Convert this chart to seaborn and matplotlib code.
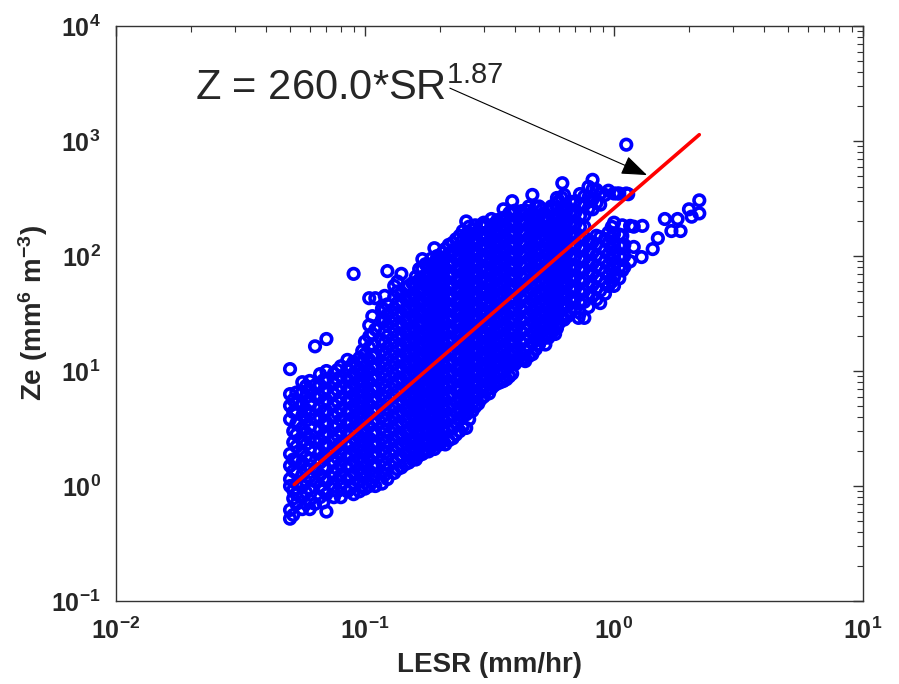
import numpy as np
import matplotlib
matplotlib.use('Agg')
import matplotlib.pyplot as plt
import seaborn as sns
from matplotlib.ticker import LogLocator, FuncFormatter, NullFormatter

# LESR values (mm/hr): one entry per vertical strip of points
col_lesr = [0.050, 0.053, 0.056, 0.060, 0.063, 0.066, 0.070, 0.075, 0.080, 0.085,
            0.090, 0.095, 0.100, 0.104, 0.110, 0.117, 0.123, 0.131, 0.140, 0.150,
            0.160, 0.170, 0.180, 0.190, 0.200, 0.210, 0.225, 0.240, 0.255, 0.270,
            0.285, 0.300, 0.315, 0.330, 0.350, 0.370, 0.390, 0.410, 0.440, 0.470,
            0.500, 0.530, 0.560, 0.580, 0.600, 0.620, 0.630, 0.650, 0.690, 0.700,
            0.720, 0.760, 0.800, 0.820, 0.880, 0.950, 1.000, 1.030, 1.080, 1.120,
            1.140, 1.160, 1.200, 1.290, 1.300, 1.430, 1.500, 1.600, 1.700, 1.800,
            1.850, 2.000, 2.050, 2.200]

# Ze values (mm^6 m^-3) of the points in each strip
col_ze = [
    [0.52, 0.62, 1.0, 1.15, 1.5, 1.9, 3.8, 5.0, 6.3, 10.4],
    [0.7, 0.85, 1.05, 1.3, 1.7, 2.2, 2.8, 3.5, 4.4, 5.2, 6.5],
    [0.63, 0.8, 1.0, 1.25, 1.6, 2.0, 2.5, 3.2, 4.1, 5.2, 6.6, 8.0],
    [0.63, 0.75, 0.95, 1.2, 1.5, 1.7, 2.1, 2.6, 3.3, 4.2, 5.3, 6.8, 8.2],
    [0.7, 1.1, 1.4, 2.4, 3.8, 6.0, 7.5, 16.4],
    [0.8, 1.0, 1.25, 1.6, 2.0, 2.5, 3.1, 3.9, 4.8, 6.0, 7.5, 9.4],
    [0.6, 0.85, 1.1, 1.4, 1.8, 2.3, 2.9, 3.6, 4.5, 5.6, 7.0, 8.5, 10.0, 19.0],
    [0.8, 1.0, 1.3, 1.6, 2.0, 2.5, 3.2, 4.0, 5.0, 6.3, 7.8, 9.5],
    [0.8, 1.0, 1.25, 1.55, 1.95, 2.4, 3.0, 3.8, 4.7, 5.9, 7.3, 9.0, 11.0],
    [0.9, 1.15, 1.45, 1.8, 2.25, 2.8, 3.5, 4.4, 5.5, 6.8, 8.5, 10.5, 12.5],
    [0.85, 1.05, 1.3, 1.65, 2.05, 2.6, 3.2, 4.0, 5.0, 6.2, 7.7, 9.5, 12.0, 70.0],
    [0.9, 1.1, 1.4, 1.75, 2.2, 2.7, 3.4, 4.3, 5.4, 6.7, 8.3, 10.3, 13.0],
    [0.95, 1.2, 1.5, 1.9, 2.35, 2.9, 3.7, 4.6, 5.7, 7.1, 8.9, 11.0, 14.0, 18.0],
    [1.0, 1.35, 1.7, 2.1, 2.6, 3.3, 4.1, 5.1, 6.4, 8.0, 10.0, 12.5, 16.0, 20.0, 25.0, 43.0],
    [1.0, 1.25, 1.55, 1.95, 2.4, 3.0, 3.8, 4.7, 5.9, 7.3, 9.1, 11.3, 14.0, 23.0, 43.0],
    [1.05, 1.3, 1.65, 2.05, 2.55, 3.2, 4.0, 5.0, 6.2, 7.8, 9.7, 12.0, 15.0, 18.5, 28.0, 35.0],
    [1.15, 1.4, 1.75, 2.2, 2.7, 3.4, 4.2, 5.3, 6.6, 8.2, 10.2, 12.7, 16.0, 20.0, 25.0, 31.0, 38.0, 74.0],
    [1.3, 1.6, 2.0, 2.5, 3.1, 3.9, 4.8, 6.0, 7.5, 9.3, 11.6, 14.5, 18.0, 22.5, 28.0, 35.0, 44.0, 55.0],
    [1.45, 1.8, 2.25, 2.8, 3.5, 4.4, 5.5, 6.8, 8.5, 10.6, 13.2, 16.4, 20.5, 25.5, 32.0, 40.0, 48.0, 70.0],
    [1.6, 2.0, 2.5, 3.1, 3.9, 4.8, 6.0, 7.5, 9.3, 11.6, 14.5, 18.0, 22.5, 28.0, 35.0, 44.0, 55.0],
    [1.7, 2.1, 2.6, 3.3, 4.1, 5.1, 6.3, 7.8, 9.7, 12.0, 15.0, 18.7, 23.0, 29.0, 36.0, 45.0, 56.0, 66.0],
    [1.9, 2.35, 2.9, 3.6, 4.5, 5.6, 7.0, 8.7, 10.8, 13.4, 16.8, 21.0, 26.0, 32.0, 40.0, 50.0, 62.0, 78.0, 94.0],
    [2.0, 2.5, 3.1, 3.9, 4.8, 6.0, 7.5, 9.3, 11.6, 14.5, 18.0, 22.5, 28.0, 35.0, 43.0, 54.0, 67.0, 83.0],
    [2.1, 2.6, 3.3, 4.1, 5.1, 6.3, 7.8, 9.7, 12.0, 15.0, 18.7, 23.0, 29.0, 36.0, 45.0, 56.0, 70.0, 88.0, 117.0],
    [2.3, 2.8, 3.5, 4.4, 5.5, 6.8, 8.5, 10.6, 13.2, 16.4, 20.5, 25.5, 32.0, 40.0, 50.0, 62.0, 77.0, 96.0],
    [2.3, 2.9, 3.6, 4.5, 5.6, 7.0, 8.7, 10.8, 13.5, 16.8, 21.0, 26.0, 32.5, 40.0, 50.0, 62.0, 78.0, 97.0, 115.0],
    [2.6, 3.2, 4.0, 5.0, 6.2, 7.8, 9.7, 12.0, 15.0, 18.7, 23.0, 29.0, 36.0, 45.0, 56.0, 70.0, 87.0, 108.0, 130.0],
    [3.0, 3.8, 4.5, 5.6, 7.0, 8.7, 10.8, 13.5, 16.8, 21.0, 26.0, 32.5, 40.0, 50.0, 62.0, 78.0, 97.0, 120.0, 150.0],
    [3.2, 4.2, 5.2, 6.4, 8.0, 10.0, 12.4, 15.4, 19.2, 24.0, 30.0, 37.0, 46.0, 57.0, 71.0, 88.0, 110.0, 127.0, 155.0, 200.0],
    [4.5, 5.2, 6.4, 8.0, 9.9, 12.3, 15.3, 19.0, 23.7, 29.5, 36.7, 45.6, 56.7, 70.5, 87.7, 109.0, 136.0, 170.0],
    [5.2, 6.3, 7.8, 9.7, 12.0, 15.0, 18.7, 23.2, 29.0, 36.0, 44.7, 55.6, 69.0, 86.0, 107.0, 133.0, 165.0],
    [6.0, 7.5, 9.3, 11.6, 14.4, 18.0, 22.0, 28.0, 34.0, 43.0, 53.0, 66.0, 82.0, 102.0, 127.0, 158.0, 195.0],
    [6.4, 7.7, 9.5, 11.8, 14.7, 18.3, 22.8, 28.4, 35.3, 44.0, 54.8, 68.2, 85.0, 105.7, 131.6, 164.0],
    [7.5, 9.2, 11.5, 14.3, 17.8, 22.0, 27.5, 34.0, 42.0, 52.0, 65.0, 81.0, 100.0, 125.0, 155.0, 190.0],
    [8.0, 9.8, 12.2, 15.2, 18.9, 23.5, 29.2, 36.3, 45.0, 56.0, 69.7, 86.7, 108.0, 134.0, 167.0, 208.0],
    [8.5, 10.5, 11.5, 13.0, 16.0, 20.0, 25.0, 31.0, 38.0, 48.0, 59.0, 73.0, 91.0, 113.0, 140.0, 175.0, 215.0],
    [9.5, 11.8, 14.6, 18.0, 22.5, 28.0, 35.0, 43.0, 53.0, 66.0, 82.0, 102.0, 127.0, 158.0, 196.0, 240.0, 300.0],
    [13.0, 16.0, 20.0, 24.5, 30.5, 38.0, 47.0, 58.5, 72.8, 90.5, 112.0, 140.0, 174.0, 216.0],
    [12.2, 13.0, 15.0, 18.6, 23.0, 28.6, 35.5, 44.0, 55.0, 68.0, 84.0, 105.0, 130.0, 160.0, 200.0, 230.0, 250.0],
    [14.0, 17.5, 21.6, 27.0, 33.0, 41.0, 51.0, 63.0, 78.0, 97.0, 120.0, 150.0, 185.0, 230.0, 340.0],
    [17.0, 21.0, 26.0, 32.0, 40.0, 49.0, 61.0, 75.0, 93.0, 115.0, 143.0, 177.0, 190.0, 220.0, 270.0],
    [17.0, 21.0, 26.0, 32.0, 40.0, 49.0, 61.0, 75.0, 93.0, 115.0, 143.0, 177.0, 220.0],
    [21.0, 26.0, 32.0, 40.0, 49.0, 61.0, 75.0, 93.0, 115.0, 143.0, 177.0, 270.0],
    [21.0, 29.0, 36.0, 45.0, 56.0, 70.0, 87.0, 108.0, 134.0, 166.0, 206.0],
    [26.0, 32.0, 40.0, 49.0, 61.0, 75.0, 93.0, 115.0, 143.0, 177.0, 220.0, 300.0],
    [430.0],
    [28.0, 35.0, 43.0, 53.0, 66.0, 82.0, 100.0, 125.0, 155.0, 192.0, 240.0, 340.0],
    [30.0, 37.0, 46.0, 57.0, 70.0, 87.0, 108.0, 134.0, 165.0, 205.0, 255.0],
    [40.0, 50.0, 62.0, 77.0, 95.0, 118.0, 146.0, 180.0, 225.0, 285.0],
    [35.0, 43.0, 53.0, 66.0, 82.0, 100.0, 125.0, 155.0, 192.0, 240.0, 300.0],
    [29.0],
    [29.0, 40.0, 50.0, 62.0, 77.0, 95.0, 118.0, 146.0, 180.0, 225.0, 280.0, 330.0],
    [300.0],
    [45.0, 56.0, 70.0, 86.0, 107.0, 132.0, 255.0, 310.0, 380.0, 460.0],
    [39.0, 50.0, 62.0, 77.0, 95.0, 118.0, 146.0, 280.0, 350.0],
    [55.0, 68.0, 84.0, 104.0, 130.0, 160.0, 370.0],
    [55.0, 65.0, 80.0, 100.0, 125.0, 155.0, 195.0, 350.0],
    [350.0],
    [75.0, 95.0, 120.0, 150.0, 185.0],
    [350.0, 930.0],
    [345.0],
    [90.0, 183.0],
    [120.0, 180.0],
    [98.0],
    [183.0],
    [115.0],
    [143.0],
    [210.0],
    [165.0],
    [210.0],
    [165.0],
    [255.0],
    [220.0],
    [235.0, 305.0],
]

# second pass of strips, lying between the ones above (the cloud is packed solid)
mid_lesr = [0.0515, 0.058, 0.068, 0.0775, 0.0875, 0.0975, 0.107, 0.120, 0.135, 0.145,
            0.155, 0.165, 0.175, 0.185, 0.195, 0.205, 0.217, 0.232, 0.247, 0.262,
            0.277, 0.292, 0.307, 0.322, 0.340, 0.360, 0.380, 0.400, 0.425, 0.455,
            0.485, 0.515, 0.545, 0.570, 0.590, 0.615, 0.640, 0.670, 0.730, 0.790,
            0.850, 0.920, 0.980, 1.050, 1.100]

mid_ze = [
    [0.56, 0.78, 0.92, 1.35, 1.7, 2.4, 3.0, 4.4, 5.6],
    [0.7, 0.88, 1.1, 1.4, 1.8, 2.3, 2.9, 3.7, 4.6, 5.9, 7.4],
    [0.72, 0.92, 1.15, 1.45, 1.8, 2.25, 2.8, 3.5, 4.4, 5.4, 6.7, 8.3],
    [0.9, 1.12, 1.4, 1.75, 2.2, 2.75, 3.4, 4.3, 5.4, 6.8, 8.4, 10.2],
    [0.95, 1.2, 1.5, 1.85, 2.35, 2.9, 3.6, 4.5, 5.6, 7.0, 8.8, 11.0],
    [1.0, 1.3, 1.6, 2.0, 2.5, 3.1, 3.9, 4.9, 6.1, 7.6, 9.5, 12.0, 15.0],
    [1.1, 1.5, 1.85, 2.3, 2.85, 3.55, 4.45, 5.5, 6.9, 8.6, 10.7, 13.4, 17.0, 21.0, 30.0],
    [1.25, 1.55, 1.95, 2.4, 3.0, 3.75, 4.7, 5.9, 7.3, 9.1, 11.4, 14.2, 17.7, 22.0, 27.5, 34.0, 45.0],
    [1.4, 1.75, 2.2, 2.75, 3.45, 4.3, 5.35, 6.7, 8.3, 10.4, 13.0, 16.2, 20.2, 25.2, 31.5, 39.2, 49.0, 60.0],
    [1.55, 1.95, 2.4, 3.0, 3.75, 4.7, 5.85, 7.3, 9.1, 11.4, 14.2, 17.7, 22.0, 27.5, 34.0, 43.0, 53.0],
    [1.7, 2.1, 2.6, 3.3, 4.1, 5.1, 6.4, 8.0, 10.0, 12.4, 15.5, 19.3, 24.0, 30.0, 37.5, 47.0, 58.0],
    [1.85, 2.3, 2.85, 3.55, 4.4, 5.5, 6.85, 8.55, 10.7, 13.3, 16.6, 20.7, 25.8, 32.2, 40.0, 50.0, 62.0, 77.0],
    [2.0, 2.5, 3.1, 3.85, 4.8, 6.0, 7.5, 9.4, 11.7, 14.6, 18.2, 22.7, 28.3, 35.3, 44.0, 55.0, 68.5, 85.0],
    [2.2, 2.75, 3.45, 4.3, 5.4, 6.7, 8.4, 10.5, 13.1, 16.3, 20.3, 25.3, 31.5, 39.3, 49.0, 61.0, 76.0, 95.0],
    [2.3, 2.9, 3.6, 4.5, 5.6, 7.0, 8.8, 11.0, 13.7, 17.1, 21.3, 26.6, 33.2, 41.4, 51.6, 64.3, 80.2, 100.0],
    [2.5, 3.15, 3.95, 4.9, 6.1, 7.6, 9.5, 11.9, 14.8, 18.5, 23.0, 28.7, 35.8, 44.6, 55.6, 69.3, 86.4, 107.0],
    [2.5, 3.1, 3.85, 4.8, 6.0, 7.5, 9.35, 11.6, 14.5, 18.1, 22.5, 28.1, 35.0, 43.6, 54.4, 67.8, 84.5, 105.0, 125.0],
    [2.8, 3.5, 4.35, 5.4, 6.8, 8.4, 10.5, 13.1, 16.3, 20.4, 25.4, 31.6, 39.4, 49.1, 61.2, 76.3, 95.0, 118.0, 140.0],
    [3.3, 4.1, 5.1, 6.3, 7.9, 9.8, 12.2, 15.2, 19.0, 23.7, 29.5, 36.8, 45.9, 57.2, 71.3, 88.8, 110.0, 137.0, 165.0],
    [3.8, 4.7, 5.8, 7.2, 9.0, 11.2, 14.0, 17.4, 21.7, 27.0, 33.7, 42.0, 52.3, 65.2, 81.2, 101.0, 126.0, 157.0, 180.0],
    [4.9, 5.9, 7.3, 9.1, 11.3, 14.1, 17.5, 21.8, 27.2, 33.9, 42.2, 52.6, 65.5, 81.6, 101.7, 126.7, 157.9, 185.0],
    [5.7, 6.9, 8.6, 10.7, 13.3, 16.6, 20.7, 25.8, 32.1, 40.0, 49.9, 62.2, 77.5, 96.6, 120.0, 150.0, 186.0],
    [6.8, 8.5, 10.5, 13.1, 16.3, 20.3, 25.3, 31.5, 39.3, 49.0, 61.0, 76.0, 94.7, 118.0, 147.0, 183.0],
    [7.1, 8.4, 10.4, 12.9, 16.1, 20.0, 24.9, 31.0, 38.6, 48.1, 59.9, 74.6, 92.9, 115.7, 144.2, 179.6, 210.0],
    [7.8, 9.6, 11.9, 14.8, 18.4, 22.9, 28.5, 35.5, 44.2, 55.1, 68.6, 85.5, 106.5, 132.6, 165.2, 205.0],
    [8.2, 10.0, 12.5, 15.5, 19.3, 24.0, 29.9, 37.3, 46.4, 57.8, 72.0, 89.7, 111.7, 139.0, 173.0, 215.0, 255.0],
    [9.0, 11.0, 13.7, 17.0, 21.2, 26.4, 32.9, 41.0, 51.1, 63.6, 79.2, 98.6, 122.8, 153.0, 190.0, 237.0],
    [11.5, 14.3, 17.8, 22.2, 27.6, 34.4, 42.8, 53.3, 66.4, 82.7, 103.0, 128.3, 159.8, 199.0, 248.0],
    [12.5, 14.2, 17.7, 22.0, 27.4, 34.1, 42.5, 52.9, 65.9, 82.1, 102.2, 127.3, 158.5, 197.4, 245.8],
    [13.5, 16.3, 20.2, 25.2, 31.3, 39.0, 48.6, 60.5, 75.3, 93.8, 116.8, 145.5, 181.2, 225.7, 270.0],
    [15.5, 19.3, 24.0, 29.9, 37.2, 46.3, 57.7, 71.8, 89.4, 111.3, 138.6, 172.6, 215.0, 268.0],
    [19.0, 23.6, 29.4, 36.6, 45.6, 56.8, 70.7, 88.0, 109.6, 136.5, 170.0, 211.7, 255.0],
    [19.5, 23.4, 29.1, 36.2, 45.1, 56.1, 69.9, 87.0, 108.4, 135.0, 168.0, 209.0, 250.0],
    [23.5, 29.2, 36.4, 45.3, 56.4, 70.2, 87.4, 108.9, 135.6, 168.9, 210.3, 262.0],
    [23.5, 29.3, 36.5, 45.4, 56.5, 70.4, 87.6, 109.1, 135.9, 169.2, 210.7, 262.4, 320.0],
    [28.9, 36.0, 44.8, 55.8, 69.5, 86.5, 107.7, 134.1, 167.0, 208.0, 259.0, 322.5],
    [31.0, 38.6, 48.0, 59.8, 74.5, 92.8, 115.5, 143.8, 179.1, 223.0, 277.7],
    [33.0, 41.1, 51.2, 63.8, 79.4, 98.9, 123.2, 153.4, 191.0, 237.8, 296.0],
    [32.0, 38.6, 48.1, 59.9, 74.6, 92.9, 115.7, 144.1, 179.4, 223.4, 278.2, 346.0],
    [36.0, 44.8, 55.8, 69.5, 86.5, 107.7, 134.1, 259.0, 322.5, 400.0],
    [42.0, 52.3, 65.1, 81.1, 101.0, 125.7, 150.0, 290.0, 376.4],
    [47.0, 58.5, 72.9, 90.7, 113.0, 140.7, 340.0],
    [60.0, 74.7, 93.0, 115.8, 144.2, 179.6],
    [64.0, 79.7, 99.2, 123.5, 153.8, 350.0],
    [80.0, 100.0, 125.0],
]

# power-law fit shown in the figure
fit_coef = 260.0
fit_exp = 1.87
fit_range = [0.052, 2.2]

lesr = [cx for cx, ys in zip(col_lesr + mid_lesr, col_ze + mid_ze) for _ in ys]
ze = [v for ys in col_ze + mid_ze for v in ys]

fit_x = np.geomspace(fit_range[0], fit_range[1], 60)
fit_y = fit_coef * fit_x ** fit_exp

sns.set_style('white')
plt.rcParams['font.family'] = ['Liberation Sans', 'DejaVu Sans']
plt.rcParams['mathtext.fontset'] = 'custom'
plt.rcParams['mathtext.rm'] = 'Liberation Sans'
plt.rcParams['mathtext.it'] = 'Liberation Sans:italic'
plt.rcParams['mathtext.bf'] = 'Liberation Sans:bold'

fig = plt.figure(figsize=(8.99, 6.84), dpi=100)
ax = fig.add_axes([0.129, 0.1213, 0.831, 0.8406])

sns.scatterplot(x=lesr, y=ze, ax=ax, marker='o', s=58, color='#0000ff',
                facecolor='none', edgecolor='#0000ff', linewidth=2.6, zorder=2)
sns.lineplot(x=fit_x, y=fit_y, ax=ax, color='red', linewidth=2.6, zorder=3)

ax.set_xscale('log')
ax.set_yscale('log')
ax.set_xlim(1e-2, 1e1)
ax.set_ylim(1e-1, 1e4)

fmt = FuncFormatter(lambda v, p: r'$\mathbf{10^{%d}}$' % int(round(np.log10(v))))
for axis in (ax.xaxis, ax.yaxis):
    axis.set_major_locator(LogLocator(base=10, numticks=12))
    axis.set_minor_locator(LogLocator(base=10, subs=np.arange(2, 10), numticks=12))
    axis.set_major_formatter(fmt)
    axis.set_minor_formatter(NullFormatter())

ax.tick_params(which='both', direction='in', top=True, right=True,
               color='#333333', labelsize=18)
ax.tick_params(which='major', length=7, width=1)
ax.tick_params(which='minor', length=4, width=0.8)
ax.tick_params(axis='x', pad=12)
ax.tick_params(axis='y', pad=11)
for sp in ax.spines.values():
    sp.set_color('#333333')
    sp.set_linewidth(1.0)

ax.set_xlabel('LESR (mm/hr)', fontsize=20, fontweight='bold')
ax.set_ylabel(r'$\mathbf{Ze\ (mm^{6}\ m^{-3})}$', fontsize=20)
ax.xaxis.set_label_coords(0.5, -0.088)
ax.yaxis.set_label_coords(-0.088, 0.5)

ax.text(0.106, 0.871, r'Z = 260.0*SR$^{1.87}$', transform=ax.transAxes,
        fontsize=30, va='baseline', ha='left')
ax.annotate('', xy=(1.357, 506), xycoords='data',
            xytext=(0.447, 0.892), textcoords='axes fraction',
            arrowprops=dict(arrowstyle='-|>,head_length=0.8,head_width=0.3',
                            color='black', lw=0.8, mutation_scale=20,
                            shrinkA=0, shrinkB=0))

fig.savefig('out.png', dpi=100)
